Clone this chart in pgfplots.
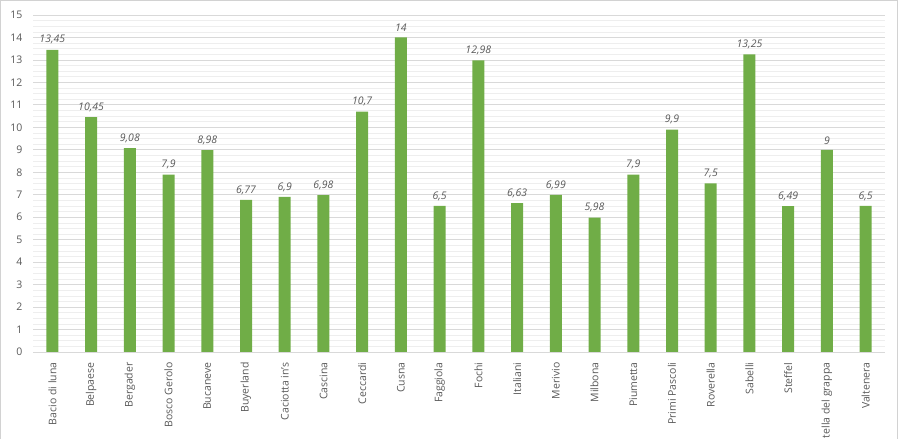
\documentclass[border=0pt]{standalone}
\usepackage{pgfplots}
\pgfplotsset{compat=1.18}
\usepackage{fontspec}
\setmainfont{Open Sans}
\definecolor{bargreen}{HTML}{70AD47}
\definecolor{txtgray}{HTML}{595959}
\definecolor{gridmaj}{HTML}{D9D9D9}
\definecolor{gridmin}{HTML}{EEEEEE}
\begin{document}
\begin{tikzpicture}[x=1pt,y=1pt]
\useasboundingbox (0,0) rectangle (900,439);
\clip (0,0) rectangle (900,439);
\draw[gray!35, line width=1pt] (0.5,-20) rectangle (897,438.5);
\begin{axis}[
  at={(33pt,87pt)}, anchor=south west,
  scale only axis, width=852pt, height=337pt,
  xmin=-0.5, xmax=21.5, ymin=0, ymax=15,
  ytick={0,1,...,15},
  minor y tick num=3,
  xtick={0,1,...,21},
  xticklabels={Bacio di luna,Belpaese,Bergader,Bosco Gerolo,Bucaneve,Buyerland,Caciotta in's,Cascina,Ceccardi,Cusna,Faggiola,Fochi,Italiani,Merivio,Milbona,Piumetta,Primi Pascoli,Roverella,Sabelli,Steffel,tella del grappa,Valtenera},
  x tick label style={rotate=90, anchor=east, font=\fontsize{10.5}{12}\selectfont, text=txtgray},
  y tick label style={font=\fontsize{10.5}{12}\selectfont, text=txtgray},
  /pgf/number format/assume math mode=true,
  ymajorgrids, yminorgrids,
  major grid style={gridmaj, line width=0.8pt},
  minor grid style={gridmin, line width=0.6pt},
  axis line style={draw=none},
  axis x line*=bottom,
  x axis line style={draw=gridmaj, line width=0.8pt},
  major tick length=0pt, minor tick length=0pt,
  xtick style={draw=none}, ytick style={draw=none}, minor tick style={draw=none},
  xticklabel shift=7pt, yticklabel shift=7pt,
  ybar, bar width=12pt,
  nodes near coords,
  nodes near coords style={font=\itshape\fontsize{10.5}{12}\selectfont, text=txtgray, /pgf/number format/use comma, /pgf/number format/assume math mode=true, yshift=2pt},
  clip=false,
]
\addplot[fill=bargreen, draw=none] coordinates {
(0,13.45) (1,10.45) (2,9.08) (3,7.9) (4,8.98) (5,6.77) (6,6.9) (7,6.98) (8,10.7) (9,14) (10,6.5)
(11,12.98) (12,6.63) (13,6.99) (14,5.98) (15,7.9) (16,9.9) (17,7.5) (18,13.25) (19,6.49) (20,9) (21,6.5)
};
\end{axis}
\end{tikzpicture}
\end{document}
